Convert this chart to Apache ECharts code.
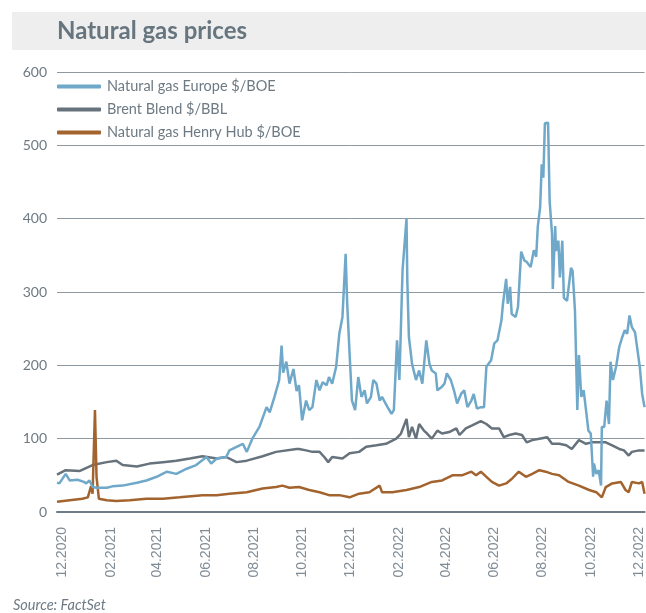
<!DOCTYPE html>
<html>
<head>
<meta charset="utf-8">
<script src="https://cdn.jsdelivr.net/npm/echarts@6/dist/echarts.min.js"></script>
<style>
html,body{margin:0;padding:0;background:#fff;}
#chart{width:646px;height:613px;}
</style>
</head>
<body>
<div id="chart"></div>
<script>
const seriesNames = ['Natural gas Europe $/BOE', 'Brent Blend $/BBL', 'Natural gas Henry Hub $/BOE'];
const tickLabels = ['12.2020','02.2021','04.2021','06.2021','08.2021','10.2021','12.2021','02.2022','04.2022','06.2022','08.2022','10.2022','12.2022'];
const yTicks = [0, 100, 200, 300, 400, 500, 600];
const xRange = ['2020-11-25', '2022-12-08'];

const europeDates = ['2020-11-25','2020-11-28','2020-12-06','2020-12-11','2020-12-21','2020-12-29','2021-01-01','2021-01-05','2021-01-09','2021-01-14','2021-01-27','2021-02-03','2021-02-16','2021-03-06','2021-03-18','2021-03-31','2021-04-13','2021-04-25','2021-05-08','2021-05-20','2021-06-02','2021-06-08','2021-06-15','2021-06-27','2021-07-01','2021-07-14','2021-07-18','2021-07-23','2021-07-30','2021-08-08','2021-08-17','2021-08-21','2021-08-27','2021-09-02','2021-09-05','2021-09-07','2021-09-11','2021-09-15','2021-09-20','2021-09-24','2021-09-27','2021-10-01','2021-10-06','2021-10-10','2021-10-14','2021-10-19','2021-10-23','2021-10-27','2021-11-01','2021-11-04','2021-11-08','2021-11-13','2021-11-17','2021-11-21','2021-11-25','2021-11-27','2021-11-30','2021-12-03','2021-12-07','2021-12-11','2021-12-15','2021-12-19','2021-12-22','2021-12-27','2021-12-30','2022-01-03','2022-01-07','2022-01-10','2022-01-17','2022-01-22','2022-01-25','2022-01-29','2022-02-01','2022-02-05','2022-02-10','2022-02-11','2022-02-13','2022-02-17','2022-02-22','2022-02-26','2022-03-02','2022-03-07','2022-03-11','2022-03-14','2022-03-19','2022-03-21','2022-03-26','2022-03-30','2022-04-02','2022-04-07','2022-04-11','2022-04-15','2022-04-20','2022-04-24','2022-04-28','2022-05-03','2022-05-06','2022-05-10','2022-05-15','2022-05-19','2022-05-22','2022-05-28','2022-06-01','2022-06-05','2022-06-10','2022-06-12','2022-06-16','2022-06-18','2022-06-21','2022-06-23','2022-06-28','2022-07-01','2022-07-05','2022-07-09','2022-07-12','2022-07-17','2022-07-21','2022-07-24','2022-07-26','2022-07-29','2022-07-31','2022-08-02','2022-08-04','2022-08-08','2022-08-10','2022-08-13','2022-08-14','2022-08-17','2022-08-18','2022-08-21','2022-08-23','2022-08-26','2022-08-28','2022-09-01','2022-09-06','2022-09-08','2022-09-11','2022-09-14','2022-09-16','2022-09-19','2022-09-22','2022-09-25','2022-09-28','2022-10-01','2022-10-04','2022-10-05','2022-10-08','2022-10-11','2022-10-14','2022-10-15','2022-10-18','2022-10-21','2022-10-24','2022-10-26','2022-10-29','2022-11-02','2022-11-06','2022-11-10','2022-11-13','2022-11-16','2022-11-19','2022-11-22','2022-11-26','2022-11-28','2022-12-02','2022-12-05','2022-12-08'];
const europeValues = [40,39,52,43,44,41,39,43,34,33,33,35,36,40,43,48,55,52,59,64,75,66,73,75,84,91,93,82,100,116,143,136,157,180,227,190,205,175,195,165,173,125,152,139,143,180,166,177,173,184,175,198,243,266,352,284,216,152,139,184,157,166,148,157,180,175,152,157,143,134,139,234,180,330,400,316,239,202,180,193,175,234,202,193,189,166,170,175,189,180,166,148,161,166,143,152,161,141,143,143,198,207,230,234,261,284,318,284,307,270,266,280,355,343,341,334,357,348,389,416,474,456,530,531,424,379,304,390,356,370,320,370,292,288,333,329,275,139,214,157,166,139,111,107,48,66,52,57,36,116,116,152,120,205,180,198,225,239,248,243,268,252,245,243,198,161,143];

const brentDates = ['2020-11-25','2020-12-06','2020-12-24','2021-01-09','2021-01-27','2021-02-08','2021-02-16','2021-03-06','2021-03-22','2021-04-08','2021-04-25','2021-05-12','2021-05-28','2021-06-15','2021-06-27','2021-07-10','2021-07-23','2021-08-12','2021-08-29','2021-09-24','2021-09-27','2021-10-06','2021-10-14','2021-10-23','2021-10-29','2021-11-03','2021-11-08','2021-11-21','2021-11-30','2021-12-12','2021-12-21','2022-01-03','2022-01-15','2022-01-28','2022-02-03','2022-02-10','2022-02-13','2022-02-17','2022-02-22','2022-02-26','2022-03-04','2022-03-08','2022-03-14','2022-03-21','2022-03-27','2022-04-05','2022-04-14','2022-04-18','2022-04-26','2022-05-04','2022-05-15','2022-05-22','2022-05-29','2022-06-07','2022-06-13','2022-06-20','2022-06-28','2022-07-06','2022-07-12','2022-07-19','2022-07-28','2022-08-07','2022-08-13','2022-08-22','2022-08-31','2022-09-07','2022-09-16','2022-09-25','2022-10-02','2022-10-11','2022-10-20','2022-10-28','2022-11-06','2022-11-12','2022-11-18','2022-11-22','2022-12-01','2022-12-08'];
const brentValues = [51,57,56,64,68,70,64,62,66,68,70,73,76,73,75,68,70,76,82,86,86,84,82,82,75,68,75,73,80,82,89,91,93,100,107,127,102,116,100,120,111,107,100,111,107,109,114,105,114,118,124,120,114,114,102,105,107,105,95,98,100,102,93,93,91,86,98,93,95,95,95,91,86,84,77,82,84,84];

const henryDates = ['2020-11-25','2020-12-11','2020-12-27','2021-01-03','2021-01-07','2021-01-09','2021-01-12','2021-01-14','2021-01-17','2021-01-27','2021-02-08','2021-02-25','2021-03-18','2021-04-08','2021-04-29','2021-05-28','2021-06-15','2021-07-01','2021-07-23','2021-08-12','2021-08-29','2021-09-06','2021-09-15','2021-09-27','2021-10-10','2021-10-23','2021-11-04','2021-11-17','2021-11-30','2021-12-12','2021-12-25','2022-01-07','2022-01-10','2022-01-23','2022-02-10','2022-02-26','2022-03-14','2022-03-27','2022-04-09','2022-04-21','2022-05-03','2022-05-09','2022-05-15','2022-05-22','2022-05-29','2022-06-07','2022-06-16','2022-06-23','2022-07-02','2022-07-11','2022-07-19','2022-07-28','2022-08-05','2022-08-13','2022-08-22','2022-09-03','2022-09-16','2022-09-29','2022-10-08','2022-10-15','2022-10-20','2022-10-28','2022-11-08','2022-11-14','2022-11-18','2022-11-22','2022-12-01','2022-12-05','2022-12-08'];
const henryValues = [14,16,18,20,35,25,139,48,18,16,15,16,18,18,20,23,23,25,27,32,34,36,33,34,30,27,23,23,20,25,27,36,27,27,30,34,41,43,50,50,55,50,55,48,41,36,39,45,55,48,52,57,55,52,50,41,36,30,27,20,34,39,41,30,27,41,39,41,25];

const colors = ['#6fa8c9', '#66727c', '#a2632e'];
const gridColor = '#8d98a1';
const textGray = '#6d7a84';

function ts(s) {
  const p = s.split('-');
  return Date.UTC(+p[0], +p[1] - 1, +p[2]);
}
function pairs(d, v) { return d.map((x, i) => [ts(x), v[i]]); }
function tickTime(lbl) {
  const m = parseInt(lbl.slice(0, 2), 10), y = parseInt(lbl.slice(3), 10);
  return Date.UTC(y, m - 1, 1);
}
const tickTimes = tickLabels.map(tickTime);
function fmt(val) {
  const i = tickTimes.indexOf(val);
  return i >= 0 ? tickLabels[i] : '';
}

const chart = echarts.init(document.getElementById('chart'), null, {renderer: 'canvas'});
chart.setOption({
  animation: false,
  backgroundColor: '#ffffff',
  color: colors,
  grid: {left: 57, right: 0, top: 72, bottom: 101, containLabel: false},
  legend: {
    orient: 'vertical', left: 57, top: 79, padding: 0,
    icon: 'roundRect', itemWidth: 44, itemHeight: 4, itemGap: 8,
    textStyle: {fontFamily: 'Lato', fontSize: 14.5, color: textGray, lineHeight: 14, padding: [0, 0, 0, 1]},
    data: seriesNames
  },
  xAxis: {
    type: 'value',
    min: ts(xRange[0]), max: ts(xRange[1]),
    axisLine: {show: true, lineStyle: {color: '#6f7c86', width: 2}},
    axisTick: {show: false},
    splitLine: {show: false},
    axisLabel: {
      customValues: tickTimes,
      rotate: 90, margin: 15,
      fontFamily: 'Liberation Sans', fontSize: 14, color: '#7f8b95',
      formatter: fmt, hideOverlap: false
    }
  },
  yAxis: {
    type: 'value', min: yTicks[0], max: yTicks[yTicks.length - 1], interval: 100,
    axisLine: {show: false}, axisTick: {show: false},
    splitLine: {show: true, lineStyle: {color: gridColor, width: 1}},
    axisLabel: {fontFamily: 'Lato', fontSize: 14, color: textGray, margin: 10}
  },
  graphic: [
    {type: 'rect', left: 12, top: 12, shape: {width: 634, height: 38}, style: {fill: '#eeeeee'}, z: -1},
    {type: 'text', x: 57, y: 31, style: {text: 'Natural gas prices', font: 'bold 24px Lato', fill: '#67757f', verticalAlign: 'middle'}},
    {type: 'text', x: 13, y: 605, style: {text: 'Source: FactSet', font: 'italic 14.5px Lato', fill: '#6d7a84', verticalAlign: 'middle'}}
  ],
  series: [
    {name: seriesNames[0], type: 'line', data: pairs(europeDates, europeValues), showSymbol: false, lineStyle: {width: 2.5, color: colors[0]}, z: 3},
    {name: seriesNames[1], type: 'line', data: pairs(brentDates, brentValues), showSymbol: false, lineStyle: {width: 2.5, color: colors[1]}, z: 2},
    {name: seriesNames[2], type: 'line', data: pairs(henryDates, henryValues), showSymbol: false, lineStyle: {width: 2.5, color: colors[2]}, z: 2}
  ]
});
</script>
</body>
</html>
